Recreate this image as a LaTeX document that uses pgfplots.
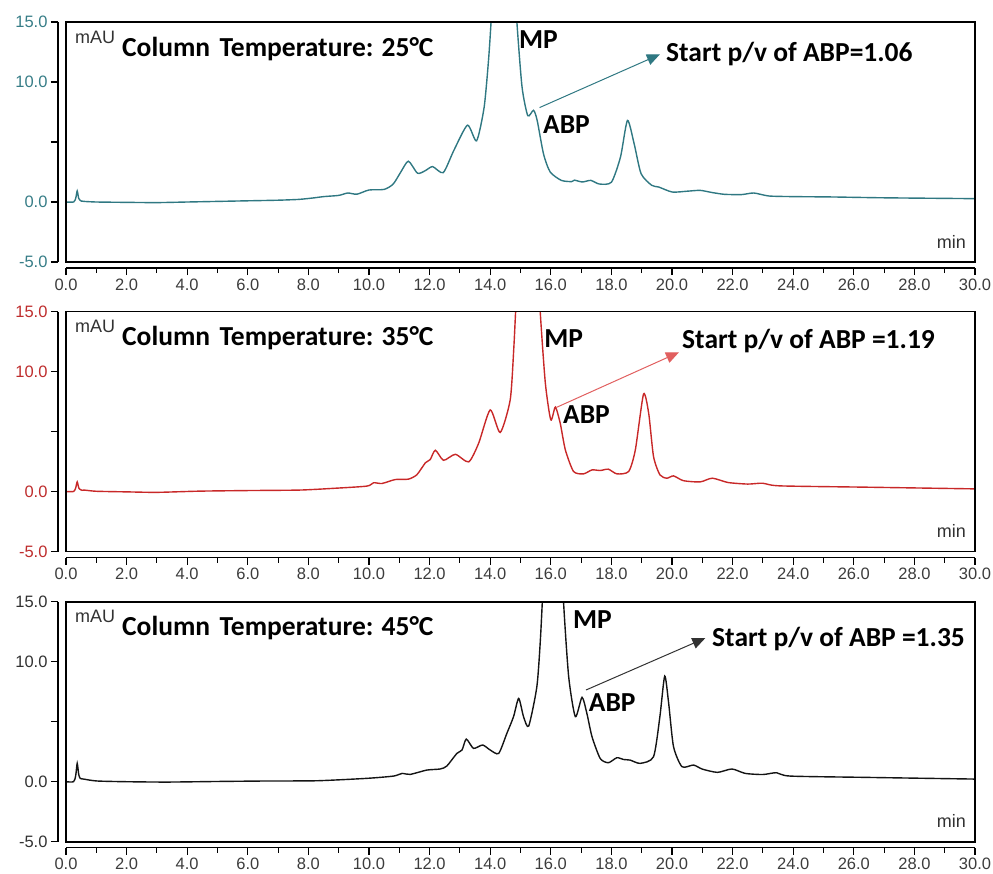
\documentclass[border=0pt]{standalone}
\usepackage{pgfplots}
\pgfplotsset{compat=1.18}
\usepackage{fontspec}
\setmainfont{Liberation Sans}
\newfontfamily\carlito{Carlito}
\usetikzlibrary{arrows.meta}
\definecolor{tealline}{RGB}{47,120,130}
\definecolor{teallab}{RGB}{55,125,135}
\definecolor{redline}{RGB}{200,40,40}
\definecolor{redlab}{RGB}{190,45,45}
\definecolor{redarrow}{RGB}{225,95,95}
\definecolor{blackline}{RGB}{20,20,20}
\definecolor{blacklab}{RGB}{50,50,50}
\definecolor{tickgray}{RGB}{60,60,60}
\newcommand\ticksize{\fontsize{16.5}{18}\selectfont}
\newcommand\annot{\carlito\bfseries\fontsize{27.5}{31}\selectfont}
\newcommand\smalllab{\fontsize{18}{20}\selectfont}
\tikzset{boxframe/.style={line width=1.6pt, black}}
\pgfplotsset{
  panel/.style={
    scale only axis, width=909pt, height=240pt,
    xmin=0, xmax=30, ymin=-5, ymax=15,
    axis lines=left, axis line style={-, line width=1.4pt, black},
    axis x line shift=6pt, axis y line shift=8pt,
    xtick={0,2,...,30}, minor x tick num=1,
    ytick={-5,0,5,10,15}, yticklabels={-5.0,0.0,{},10.0,15.0},
    tick align=outside, major tick length=7pt, minor tick length=5pt,
    tick style={black, line width=1.1pt},
    /pgf/number format/fixed, /pgf/number format/fixed zerofill,
    /pgf/number format/precision=1, /pgf/number format/assume math mode=true,
    xticklabel style={text=tickgray, font=\ticksize},
    yticklabel style={font=\ticksize},
    clip mode=individual,
  },
}
\begin{document}
\begin{tikzpicture}
\path[use as bounding box] (0pt,0pt) rectangle (993pt,-873pt);
% ---------- Panel 1: 25 C ----------
\begin{axis}[panel, at={(66pt,-262pt)}, anchor=south west, yticklabel style={text=teallab}]
\addplot[tealline, line width=1.4pt, smooth, tension=0.4] coordinates {
(0,0) (0.25,0) (0.32,0.3) (0.37,0.92) (0.42,0.3) (0.5,0.08) (0.6,0.05) (1.0,0.0)
(2.0,-0.03) (3.0,-0.05) (4.0,0.0) (5.0,0.05) (6.0,0.1) (7.0,0.15) (7.7,0.22)
(8.2,0.35) (8.5,0.45) (9.0,0.55) (9.3,0.75) (9.6,0.65) (10.0,1.0) (10.5,1.05)
(10.8,1.5) (11.05,2.5) (11.3,3.4) (11.6,2.4) (11.85,2.6) (12.1,2.95) (12.45,2.45)
(12.8,4.3) (13.25,6.4) (13.55,5.1) (13.8,7.9) (13.95,12) (14.05,16) (14.2,24)
(14.45,30) (14.7,22) (14.88,15) (15.05,9.6) (15.24,7.2) (15.43,7.64) (15.55,6.8)
(15.76,4.0) (15.98,2.5) (16.35,1.8) (16.69,1.7) (16.78,1.82) (17.04,1.67) (17.32,1.8)
(17.6,1.5) (18.0,1.65) (18.3,3.75) (18.53,6.8) (18.75,4.86) (18.98,2.36) (19.33,1.39)
(19.56,1.25) (20.01,0.83) (20.5,0.9) (20.93,0.97) (21.3,0.8) (21.73,0.64) (22.3,0.62)
(22.7,0.75) (23.2,0.5) (24.0,0.45) (25.28,0.42) (27.0,0.35) (29.98,0.28)
};
\draw[boxframe] (rel axis cs:0,0) rectangle (rel axis cs:1,1);
\node[anchor=base west, xshift=9pt, yshift=-21pt, text=blacklab, inner sep=0pt] at (rel axis cs:0,1) {\smalllab mAU};
\node[anchor=base west, xshift=56pt, yshift=-34pt, inner sep=0pt] at (rel axis cs:0,1) {\annot Column\hspace{0.12em} Temperature: 25°C};
\node[anchor=base east, xshift=-9pt, yshift=14pt, text=blacklab, inner sep=0pt] at (rel axis cs:1,0) {\smalllab min};
\node[anchor=base west, inner sep=0pt] at (axis cs:14.95,12.8) {\annot MP};
\node[anchor=base west, inner sep=0pt] at (axis cs:15.74,5.69) {\annot ABP};
\node[anchor=base west, inner sep=0pt] at (axis cs:19.8,11.67) {\annot Start p/v of ABP=1.06};
\draw[tealline, line width=1pt, -{Triangle[length=13pt,width=11pt]}] (axis cs:15.63,7.87) -- (axis cs:19.6,12.3);
\end{axis}
% ---------- Panel 2: 35 C ----------
\begin{axis}[panel, at={(66pt,-551.5pt)}, anchor=south west, yticklabel style={text=redlab}]
\addplot[redline, line width=1.4pt, smooth, tension=0.4] coordinates {
(0,0) (0.25,0) (0.32,0.3) (0.37,0.8) (0.43,0.25) (0.53,0.1) (0.6,0.12) (1.0,0.02)
(2.0,-0.03) (3.0,-0.07) (4.4,0.03) (6.0,0.08) (7.7,0.12) (8.8,0.26) (9.93,0.45)
(10.15,0.73) (10.43,0.67) (10.87,1.0) (11.3,1.03) (11.58,1.4) (11.86,2.39) (12.02,2.66)
(12.19,3.44) (12.46,2.6) (12.85,3.1) (13.29,2.47) (13.62,4.03) (14.0,6.8) (14.33,4.92)
(14.66,7.64) (14.78,12) (14.9,18) (15.2,30) (15.5,22) (15.65,15) (15.82,9.03) (16.0,5.97)
(16.15,7.03) (16.31,5.7) (16.48,3.47) (16.75,1.67) (17.08,1.47) (17.36,1.8) (17.63,1.75)
(17.9,1.86) (18.18,1.47) (18.57,1.67) (18.79,3.47) (19.06,8.11) (19.23,6.53) (19.39,2.92)
(19.6,1.39) (19.83,1.11) (20.05,1.3) (20.38,0.9) (20.93,0.8) (21.33,1.11) (21.85,0.75)
(22.5,0.62) (22.99,0.69) (23.56,0.47) (26.43,0.36) (29.98,0.22)
};
\draw[boxframe] (rel axis cs:0,0) rectangle (rel axis cs:1,1);
\node[anchor=base west, xshift=9pt, yshift=-21pt, text=blacklab, inner sep=0pt] at (rel axis cs:0,1) {\smalllab mAU};
\node[anchor=base west, xshift=56pt, yshift=-34pt, inner sep=0pt] at (rel axis cs:0,1) {\annot Column\hspace{0.12em} Temperature: 35°C};
\node[anchor=base east, xshift=-9pt, yshift=14pt, text=blacklab, inner sep=0pt] at (rel axis cs:1,0) {\smalllab min};
\node[anchor=base west, inner sep=0pt] at (axis cs:15.78,12.0) {\annot MP};
\node[anchor=base west, inner sep=0pt] at (axis cs:16.4,5.68) {\annot ABP};
\node[anchor=base west, inner sep=0pt] at (axis cs:20.33,11.9) {\annot Start p/v of ABP =1.19};
\draw[redarrow, line width=1pt, -{Triangle[length=13pt,width=11pt]}] (axis cs:16.17,6.99) -- (axis cs:20.23,11.6);
\end{axis}
% ---------- Panel 3: 45 C ----------
\begin{axis}[panel, at={(66pt,-841.7pt)}, anchor=south west, yticklabel style={text=blacklab}]
\addplot[blackline, line width=1.4pt, smooth, tension=0.4] coordinates {
(0,0) (0.25,0) (0.32,0.5) (0.37,1.53) (0.42,0.6) (0.47,0.28) (0.58,0.22) (1.02,0.06)
(2.0,0.0) (3.33,-0.03) (5.0,0.02) (6.63,0.06) (8.28,0.08) (9.93,0.28) (10.81,0.47)
(11.09,0.69) (11.36,0.61) (11.91,0.97) (12.35,1.06) (12.57,1.31) (12.9,2.36) (13.07,2.64)
(13.21,3.55) (13.45,2.78) (13.75,3.06) (14.0,2.64) (14.28,2.36) (14.55,4.03) (14.77,5.42)
(14.94,6.94) (15.1,5.42) (15.27,4.64) (15.54,7.92) (15.66,12) (15.78,18) (16.05,30)
(16.3,22) (16.42,15) (16.59,8.75) (16.81,5.42) (17.03,7.03) (17.19,5.7) (17.36,3.75)
(17.63,1.94) (17.9,1.58) (18.18,2.0) (18.4,1.85) (18.62,1.8) (18.95,1.53) (19.39,2.08)
(19.6,5.42) (19.76,8.81) (19.89,6.53) (20.05,2.92) (20.33,1.25) (20.71,1.39) (21.0,1.05)
(21.5,0.78) (21.98,1.06) (22.42,0.69) (23.0,0.6) (23.45,0.75) (23.9,0.47) (26.43,0.36)
(29.98,0.22)
};
\draw[boxframe] (rel axis cs:0,0) rectangle (rel axis cs:1,1);
\node[anchor=base west, xshift=9pt, yshift=-21pt, text=blacklab, inner sep=0pt] at (rel axis cs:0,1) {\smalllab mAU};
\node[anchor=base west, xshift=56pt, yshift=-34pt, inner sep=0pt] at (rel axis cs:0,1) {\annot Column\hspace{0.12em} Temperature: 45°C};
\node[anchor=base east, xshift=-9pt, yshift=14pt, text=blacklab, inner sep=0pt] at (rel axis cs:1,0) {\smalllab min};
\node[anchor=base west, inner sep=0pt] at (axis cs:16.73,12.8) {\annot MP};
\node[anchor=base west, inner sep=0pt] at (axis cs:17.25,5.81) {\annot ABP};
\node[anchor=base west, inner sep=0pt] at (axis cs:21.32,11.27) {\annot Start p/v of ABP =1.35};
\draw[blacklab, line width=1pt, -{Triangle[length=13pt,width=11pt]}] (axis cs:17.16,7.64) -- (axis cs:21.1,11.97);
\end{axis}
\end{tikzpicture}
\end{document}
